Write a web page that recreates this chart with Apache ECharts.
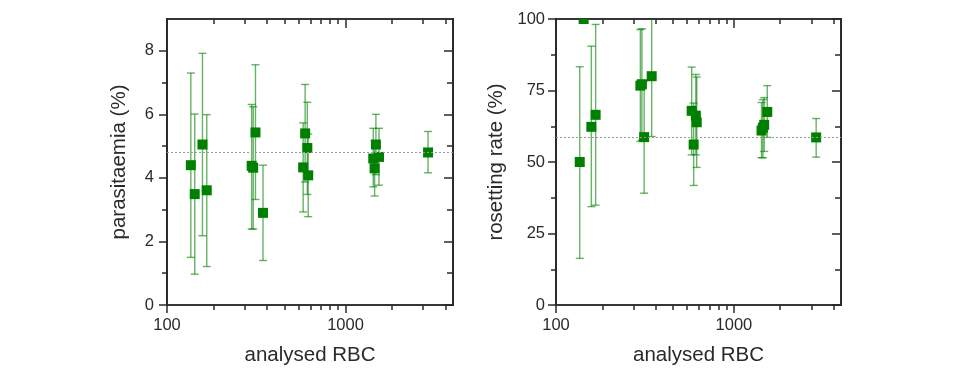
<!DOCTYPE html>
<html>
<head>
<meta charset="utf-8">
<script src="https://cdn.jsdelivr.net/npm/echarts@6/dist/echarts.min.js"></script>
<style>
  html, body { margin: 0; background: #fff; }
  #chart { width: 957px; height: 368px; }
</style>
</head>
<body>
<div id="chart"></div>
<script>
// analysed RBC per sample (shared by both panels)
const rbc = [136, 143, 158, 167, 298, 304, 313, 345, 579, 594, 611, 618, 1430, 1455, 1480, 1540, 2900];

// left panel: parasitaemia (%) with error bar ends
const para     = [4.40, 3.49, 5.05, 3.61, 4.38, 4.32, 5.43, 2.90, 4.33, 5.40, 4.94, 4.08, 4.61, 4.30, 5.05, 4.66, 4.80];
const paraLow  = [1.50, 0.97, 2.18, 1.21, 2.39, 2.39, 3.32, 1.40, 2.93, 3.87, 3.48, 2.78, 3.72, 3.43, 4.10, 3.77, 4.16];
const paraHigh = [7.30, 6.01, 7.92, 5.99, 6.31, 6.24, 7.56, 4.40, 5.73, 6.94, 6.38, 5.38, 5.56, 5.17, 6.00, 5.56, 5.46];
const paraRef = 4.8;

// right panel: rosetting rate (%)
const ros     = [50.0, 100, 62.3, 66.5, 76.7, 77.2, 58.7, 80.0, 67.9, 56.1, 66.2, 63.9, 61.0, 62.0, 63.0, 67.5, 58.6];
const rosLow  = [16.3, null, 34.4, 34.9, 57.2, 57.6, 39.1, 58.9, 52.5, 41.8, 52.5, 48.1, 51.5, 51.5, 53.7, 58.6, 51.7];
const rosHigh = [83.3, null, 90.5, 98.1, 96.3, 96.6, 78.3, 101, 83.2, 70.6, 80.6, 79.7, 70.8, 71.8, 72.5, 76.7, 65.2];
const rosRef = 58.6;

// ticks
const xMajor = [100, 1000];
const xMinor = [182, 273, 364, 455, 545, 636, 727, 817, 908, 1817, 2725, 3633];
const paraMajor = [0, 2, 4, 6, 8];
const paraMinor = [1, 3, 5, 7];
const rosMajor = [0, 25, 50, 75, 100];
const rosMinor = [12.5, 37.5, 62.5, 87.5];

const FONT = 'Liberation Sans, Arial, sans-serif';
const INK = '#2a2a2a';
const GREEN = '#008000';

const chart = echarts.init(document.getElementById('chart'));

function xAxes(grid) {
  const base = {
    gridIndex: grid, type: 'log', logBase: 10, min: 100, max: 4000,
    splitLine: { show: false },
    axisLine: { show: true, onZero: false, lineStyle: { color: INK, width: 1.5 } }
  };
  const tick = (vals, len, inside) => ({
    show: true, customValues: vals, length: len, inside: inside,
    lineStyle: { color: INK, width: 1.5 }
  });
  return [
    Object.assign({}, base, {
      position: 'bottom',
      axisTick: tick(xMajor, 8, false),
      axisLabel: {
        customValues: xMajor, margin: 12, fontSize: 16.5, fontFamily: FONT, color: INK,
        formatter: v => String(Math.round(v))
      },
      name: 'analysed RBC', nameLocation: 'middle', nameGap: 40,
      nameTextStyle: { fontSize: 20.5, fontFamily: FONT, color: INK }
    }),
    Object.assign({}, base, { position: 'bottom', axisTick: tick(xMinor, 5, false), axisLabel: { show: false } }),
    Object.assign({}, base, { position: 'top', axisTick: tick(xMajor, 9, true), axisLabel: { show: false } }),
    Object.assign({}, base, { position: 'top', axisTick: tick(xMinor, 5, true), axisLabel: { show: false } })
  ];
}

function yAxes(grid, max, major, minor, name, nameGap, margin) {
  const base = {
    gridIndex: grid, type: 'value', min: 0, max: max,
    splitLine: { show: false },
    axisLine: { show: true, onZero: false, lineStyle: { color: INK, width: 2 } }
  };
  const tick = (vals, len, inside) => ({
    show: true, customValues: vals, length: len, inside: inside,
    lineStyle: { color: INK, width: 1.5 }
  });
  return [
    Object.assign({}, base, {
      position: 'left',
      axisTick: tick(major, 8, false),
      axisLabel: { customValues: major, margin: margin, fontSize: 16.5, fontFamily: FONT, color: INK },
      name: name, nameLocation: 'middle', nameGap: nameGap,
      nameTextStyle: { fontSize: 20.5, fontFamily: FONT, color: INK }
    }),
    Object.assign({}, base, { position: 'left', axisTick: tick(minor, 5, false), axisLabel: { show: false } }),
    Object.assign({}, base, { position: 'right', axisTick: tick(major, 9, true), axisLabel: { show: false } }),
    Object.assign({}, base, { position: 'right', axisTick: tick(minor, 6, true), axisLabel: { show: false } })
  ];
}

// square markers drawn as a custom series so they are clipped at the frame
function pointSeries(ax, vals, ref) {
  return {
    type: 'custom', xAxisIndex: ax, yAxisIndex: ax, z: 4, clip: true,
    data: rbc.map((x, i) => [x, vals[i]]),
    encode: { x: 0, y: 1 },
    renderItem(params, api) {
      const p = api.coord([api.value(0), api.value(1)]);
      const s = 10;
      return {
        type: 'rect',
        shape: { x: p[0] - s / 2, y: p[1] - s / 2, width: s, height: s },
        style: { fill: GREEN }
      };
    },
    markLine: {
      silent: true, symbol: 'none', label: { show: false },
      lineStyle: { type: [2, 2], color: '#9a9a9a', width: 1 },
      data: [{ yAxis: ref }]
    }
  };
}

function errorSeries(ax, lows, highs) {
  return {
    type: 'custom', xAxisIndex: ax, yAxisIndex: ax, z: 3, clip: true,
    data: rbc.map((x, i) => [x, lows[i], highs[i]]).filter(d => d[1] != null),
    encode: { x: 0, y: [1, 2] },
    renderItem(params, api) {
      const lo = api.coord([api.value(0), api.value(1)]);
      const hi = api.coord([api.value(0), api.value(2)]);
      const hw = 4;
      const style = { stroke: 'rgba(0,128,0,0.6)', lineWidth: 1.4 };
      return {
        type: 'group',
        children: [
          { type: 'line', shape: { x1: lo[0], y1: lo[1], x2: hi[0], y2: hi[1] }, style },
          { type: 'line', shape: { x1: lo[0] - hw, y1: lo[1], x2: lo[0] + hw, y2: lo[1] }, style },
          { type: 'line', shape: { x1: hi[0] - hw, y1: hi[1], x2: hi[0] + hw, y2: hi[1] }, style }
        ]
      };
    }
  };
}

const option = {
  animation: false,
  backgroundColor: '#fff',
  grid: [
    { left: 167, top: 19, width: 286, height: 286, containLabel: false, outerBoundsMode: 'none' },
    { left: 556, top: 19, width: 285, height: 286, containLabel: false, outerBoundsMode: 'none' }
  ],
  xAxis: xAxes(0).concat(xAxes(1)),
  yAxis: yAxes(0, 9, paraMajor, paraMinor, 'parasitaemia (%)', 37, 13)
    .concat(yAxes(1, 100, rosMajor, rosMinor, 'rosetting rate (%)', 49, 11)),
  series: [
    errorSeries(0, paraLow, paraHigh),
    pointSeries(0, para, paraRef),
    errorSeries(4, rosLow, rosHigh),
    pointSeries(4, ros, rosRef)
  ]
};

chart.setOption(option);
</script>
</body>
</html>
